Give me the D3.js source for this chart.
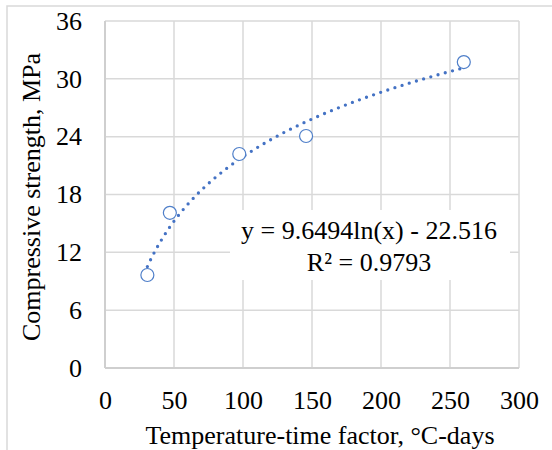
<!DOCTYPE html>
<html>
<head>
<meta charset="utf-8">
<script src="https://cdn.jsdelivr.net/npm/d3@7"></script>
<style>
  body { margin: 0; background: #fff; }
  svg text { font-family: "Liberation Serif", "Times New Roman", serif; fill: #000; }
</style>
</head>
<body>
<script>
const w = 552;
const h = 450;

// data
const tempTime = [30.7, 47, 97.3, 145.7, 260];
const strength = [9.65, 16.1, 22.2, 24.07, 31.74];
const xTicks = [0, 50, 100, 150, 200, 250, 300];
const yTicks = [0, 6, 12, 18, 24, 30, 36];
const fitCoef = [9.6494, -22.516]; // y = a ln(x) + b
const eqLines = ["y = 9.6494ln(x) - 22.516", "R\u00b2 = 0.9793"];

const serif = "'Liberation Serif', 'Times New Roman', serif";

const svg = d3.select("body")
    .append("svg")
    .attr("width", w)
    .attr("height", h)
    .attr("font-family", serif)

// outer chart border (cropped on right and bottom)
svg.append("rect")
    .attr("x", 7)
    .attr("y", 6)
    .attr("width", 600)
    .attr("height", 500)
    .style("fill", "white")
    .style("stroke", "#d9d9d9")
    .style("stroke-width", 1.5)

const xScale = d3.scaleLinear()
    .domain([0, 300])
    .range([105, 519])

const yScale = d3.scaleLinear()
    .domain([0, 36])
    .range([368, 21])

// grid
svg.append("g")
    .selectAll("line")
    .data(xTicks)
    .enter()
    .append("line")
      .attr("x1", d => xScale(d))
      .attr("x2", d => xScale(d))
      .attr("y1", yScale(36))
      .attr("y2", yScale(0))
      .style("stroke", "#d9d9d9")
      .style("stroke-width", 1.5)

svg.append("g")
    .selectAll("line")
    .data(yTicks)
    .enter()
    .append("line")
      .attr("x1", xScale(0))
      .attr("x2", xScale(300))
      .attr("y1", d => yScale(d))
      .attr("y2", d => yScale(d))
      .style("stroke", "#d9d9d9")
      .style("stroke-width", 1.5)

// axes lines slightly stronger
svg.append("line")
    .attr("x1", xScale(0)).attr("x2", xScale(0))
    .attr("y1", yScale(36)).attr("y2", yScale(0))
    .style("stroke", "#cfcfcf").style("stroke-width", 2)
svg.append("line")
    .attr("x1", xScale(0)).attr("x2", xScale(300))
    .attr("y1", yScale(0)).attr("y2", yScale(0))
    .style("stroke", "#cfcfcf").style("stroke-width", 2)

// tick labels via d3 axes
const xAxis = d3.axisBottom(xScale).tickValues(xTicks).tickSize(0).tickPadding(23)
const yAxis = d3.axisLeft(yScale).tickValues(yTicks).tickSize(0).tickPadding(23)

const gx = svg.append("g")
    .attr("transform", `translate(0, ${yScale(0)})`)
    .call(xAxis)
    .attr("font-family", serif)
    .attr("font-size", 26)
gx.select(".domain").remove()

const gy = svg.append("g")
    .attr("transform", `translate(${xScale(0)}, 0)`)
    .call(yAxis)
    .attr("font-family", serif)
    .attr("font-size", 26)
gy.select(".domain").remove()

// trendline
const [lo, hi] = d3.extent(tempTime)
const trendX = d3.range(0, 101).map(i => lo + (hi - lo) * i / 100)
const line = d3.line()
    .x(d => xScale(d))
    .y(d => yScale(fitCoef[0] * Math.log(d) + fitCoef[1]))

svg.append("path")
    .datum(trendX)
    .attr("d", line)
    .style("fill", "none")
    .style("stroke", "#4472c4")
    .style("stroke-width", 3.3)
    .style("stroke-linecap", "round")
    .style("stroke-dasharray", "0 7.5")

// markers
svg.append("g")
    .selectAll("circle")
    .data(tempTime)
    .enter()
    .append("circle")
      .attr("cx", d => xScale(d))
      .attr("cy", (d, i) => yScale(strength[i]))
      .attr("r", 6.5)
      .style("fill", "white")
      .style("stroke", "#4f7fc9")
      .style("stroke-width", 1.2)

// equation label box
svg.append("rect")
    .attr("x", 230)
    .attr("y", 210)
    .attr("width", 280)
    .attr("height", 70)
    .style("fill", "white")

svg.selectAll(".eq")
    .data(eqLines)
    .enter()
    .append("text")
      .attr("class", "eq")
      .attr("x", 369)
      .attr("y", (d, i) => 239 + i * 32)
      .attr("text-anchor", "middle")
      .attr("font-size", 26)
      .text(d => d)

// axis titles
svg.append("text")
    .attr("x", 320)
    .attr("y", 444)
    .attr("text-anchor", "middle")
    .attr("font-size", 26)
    .text("Temperature-time factor, \u00b0C-days")

svg.append("text")
    .attr("transform", "translate(40, 197) rotate(-90)")
    .attr("text-anchor", "middle")
    .attr("font-size", 26)
    .text("Compressive strength, MPa")
</script>
</body>
</html>
